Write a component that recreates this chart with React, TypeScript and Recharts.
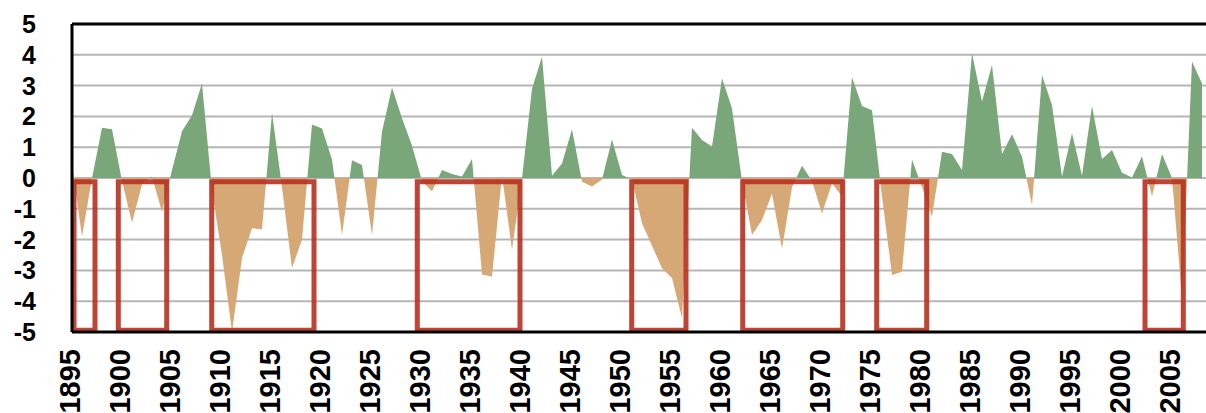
import React from "react";
import {
    AreaChart,
    Area,
    XAxis,
    YAxis,
    CartesianGrid,
    ReferenceArea,
    ReferenceLine,
} from "recharts";

// yearly index values
const years = [
    1895, 1896, 1897, 1898, 1899, 1900, 1901, 1902, 1903, 1904,
    1905, 1906, 1907, 1908, 1909, 1910, 1911, 1912, 1913, 1914,
    1915, 1916, 1917, 1918, 1919, 1920, 1921, 1922, 1923, 1924,
    1925, 1926, 1927, 1928, 1929, 1930, 1931, 1932, 1933, 1934,
    1935, 1936, 1937, 1938, 1939, 1940, 1941, 1942, 1943, 1944,
    1945, 1946, 1947, 1948, 1949, 1950, 1951, 1952, 1953, 1954,
    1955, 1956, 1957, 1958, 1959, 1960, 1961, 1962, 1963, 1964,
    1965, 1966, 1967, 1968, 1969, 1970, 1971, 1972, 1973, 1974,
    1975, 1976, 1977, 1978, 1979, 1980, 1981, 1982, 1983, 1984,
    1985, 1986, 1987, 1988, 1989, 1990, 1991, 1992, 1993, 1994,
    1995, 1996, 1997, 1998, 1999, 2000, 2001, 2002, 2003, 2004,
    2005, 2006, 2007, 2008,
];

const values = [
    0.42, -1.9, 0.0, 1.63, 1.58, -0.1, -1.45, -0.2, 0.05, -1.1,
    0.26, 1.52, 2.04, 3.07, -0.4, -2.5, -5.0, -2.6, -1.63, -1.66,
    2.12, -0.3, -2.92, -2.0, 1.74, 1.61, 0.6, -1.85, 0.58, 0.42,
    -1.85, 1.5, 2.94, 1.94, 1.05, -0.1, -0.44, 0.26, 0.13, 0.05,
    0.62, -3.13, -3.2, 0.08, -2.33, -0.02, 2.9, 3.94, 0.07, 0.47,
    1.58, -0.12, -0.28, -0.05, 1.25, 0.1, -0.05, -1.47, -2.2, -2.93,
    -3.25, -4.55, 1.63, 1.23, 1.02, 3.24, 2.26, -0.1, -1.85, -1.36,
    -0.5, -2.3, -0.3, 0.4, -0.1, -1.15, -0.17, -0.6, 3.27, 2.34,
    2.2, -0.6, -3.15, -3.04, 0.6, -0.3, -1.25, 0.85, 0.78, 0.26,
    4.05, 2.48, 3.67, 0.78, 1.42, 0.69, -0.88, 3.34, 2.37, 0.05,
    1.45, 0.07, 2.34, 0.62, 0.91, 0.17, 0.02, 0.71, -0.6, 0.78,
    0.0, -3.9, 3.78, 3.07,
];

// drought periods outlined in red
const droughtStart = [1895.2, 1899.63, 1908.97, 1929.53, 1950.97, 1962.07, 1975.47, 2002.3];
const droughtEnd = [1897.3, 1904.47, 1919.2, 1939.8, 1956.4, 1972.07, 1980.47, 2006.13];
const boxTop = -0.12;
const boxBottom = -4.94;

const xTicks = [
    1895, 1900, 1905, 1910, 1915, 1920, 1925, 1930, 1935, 1940, 1945,
    1950, 1955, 1960, 1965, 1970, 1975, 1980, 1985, 1990, 1995, 2000, 2005,
];
const yTicks = [-5, -4, -3, -2, -1, 0, 1, 2, 3, 4, 5];

const data = years.map((year, i) => ({ year, v: values[i] }));

const FONT = "'Liberation Sans', Arial, Helvetica, sans-serif";
const WET = "#79a779";
const DRY = "#d6a875";

// where the fill switches colour (objectBoundingBox of the area)
const vMax = Math.max(...values);
const vMin = Math.min(...values);
const splitAt = vMax / (vMax - vMin);

const YearTick = ({ x, y, payload }: any) => (
    <text
        transform={`translate(${x},${y}) rotate(-90)`}
        textAnchor="end"
        dy={7.5}
        fontFamily={FONT}
        fontWeight="bold"
        fontSize={29}
        fill="#000"
    >
        {payload.value}
    </text>
);

const ValueTick = ({ x, y, payload }: any) => (
    <text
        x={x}
        y={y}
        textAnchor="end"
        dy={9}
        fontFamily={FONT}
        fontWeight="bold"
        fontSize={25}
        fill="#000"
    >
        {payload.value}
    </text>
);

export default function App() {
    return (
        <div style={{ position: "absolute", left: 0, top: 0, background: "#fff" }}>
            <AreaChart
                width={1206}
                height={413}
                data={data}
                margin={{ top: 24, right: 0, bottom: 0, left: 0 }}
            >
                <defs>
                    <linearGradient id="wetDry" x1="0" y1="0" x2="0" y2="1">
                        <stop offset={splitAt} stopColor={WET} />
                        <stop offset={splitAt} stopColor={DRY} />
                    </linearGradient>
                </defs>
                <CartesianGrid
                    vertical={false}
                    stroke="#b6b6b6"
                    strokeWidth={2}
                />
                <XAxis
                    dataKey="year"
                    type="number"
                    domain={[1895, 2008.4]}
                    ticks={xTicks}
                    interval={0}
                    height={81}
                    tickSize={0}
                    tickMargin={17}
                    tick={<YearTick />}
                    axisLine={{ stroke: "#000", strokeWidth: 3 }}
                />
                <YAxis
                    type="number"
                    domain={[-5, 5]}
                    ticks={yTicks}
                    interval={0}
                    width={72}
                    tickSize={0}
                    tickMargin={36}
                    tick={<ValueTick />}
                    axisLine={{ stroke: "#000", strokeWidth: 3 }}
                />
                <Area
                    type="linear"
                    dataKey="v"
                    baseValue={0}
                    stroke="none"
                    fill="url(#wetDry)"
                    fillOpacity={1}
                    dot={false}
                    activeDot={false}
                    isAnimationActive={false}
                />
                <ReferenceLine y={5} stroke="#000" strokeWidth={3} />
                {droughtStart.map((s, i) => (
                    <ReferenceArea
                        key={s}
                        x1={s}
                        x2={droughtEnd[i]}
                        y1={boxBottom}
                        y2={boxTop}
                        fill="none"
                        stroke="#b8301f"
                        strokeWidth={5}
                        strokeOpacity={0.9}
                    />
                ))}
            </AreaChart>
        </div>
    );
}
